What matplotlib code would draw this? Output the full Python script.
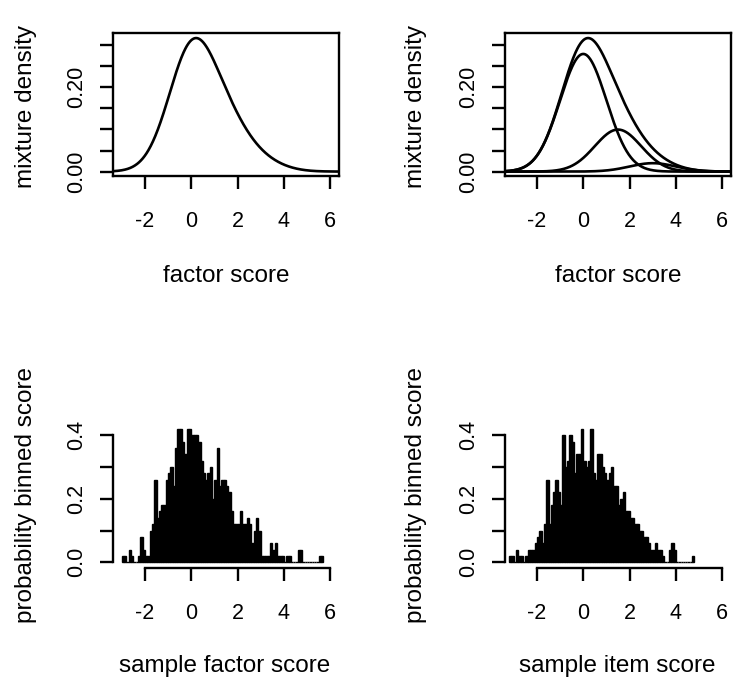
import numpy as np
import matplotlib
matplotlib.use('Agg')
import matplotlib.pyplot as plt

plt.rcParams['font.family'] = ['Liberation Sans', 'DejaVu Sans']
plt.rcParams['axes.unicode_minus'] = False

comp_means = [0.0, 1.5, 3.0]
comp_sds = [1.0, 1.0, 1.0]
comp_weights = [0.70, 0.25, 0.05]

# histograma amostra fator: inicio -3.0, largura 0.1
hist1_start = -3.0
hist1_width = 0.1
hist1_heights = [0.02, 0.02, 0.00, 0.04, 0.02, 0.00, 0.00, 0.02, 0.08, 0.04,
                 0.02, 0.02, 0.10, 0.12, 0.26, 0.14, 0.16, 0.18, 0.18, 0.26,
                 0.28, 0.30, 0.24, 0.36, 0.42, 0.42, 0.38, 0.34, 0.42, 0.42,
                 0.40, 0.40, 0.40, 0.38, 0.32, 0.28, 0.26, 0.28, 0.30, 0.20,
                 0.26, 0.36, 0.24, 0.26, 0.26, 0.24, 0.22, 0.16, 0.12, 0.12,
                 0.12, 0.16, 0.12, 0.12, 0.14, 0.12, 0.06, 0.10, 0.14, 0.10,
                 0.02, 0.02, 0.02, 0.02, 0.06, 0.04, 0.06, 0.02, 0.02, 0.02,
                 0.00, 0.02, 0.02, 0.00, 0.00, 0.00, 0.04, 0.04, 0.00, 0.00,
                 0.00, 0.00, 0.00, 0.00, 0.00, 0.02, 0.02]

# histograma amostra item: inicio -3.2, largura 0.1
hist2_start = -3.2
hist2_width = 0.1
hist2_heights = [0.02, 0.02, 0.00, 0.04, 0.02, 0.02, 0.00, 0.02, 0.04, 0.04,
                 0.04, 0.06, 0.08, 0.10, 0.06, 0.12, 0.26, 0.12, 0.18, 0.22,
                 0.26, 0.22, 0.18, 0.40, 0.30, 0.32, 0.40, 0.38, 0.28, 0.34,
                 0.34, 0.42, 0.32, 0.30, 0.32, 0.42, 0.28, 0.26, 0.34, 0.34,
                 0.30, 0.28, 0.26, 0.28, 0.30, 0.24, 0.24, 0.18, 0.20, 0.22,
                 0.16, 0.16, 0.14, 0.14, 0.12, 0.12, 0.10, 0.10, 0.08, 0.08,
                 0.06, 0.04, 0.04, 0.06, 0.04, 0.04, 0.02, 0.00, 0.00, 0.04,
                 0.06, 0.04, 0.00, 0.00, 0.00, 0.00, 0.00, 0.00, 0.00, 0.02]

x_ticks = [-2, 0, 2, 4, 6]
dens_ticks = [0.00, 0.05, 0.10, 0.15, 0.20, 0.25, 0.30]
dens_labels = ['0.00', '', '', '', '0.20', '', '']
prob_ticks = [0.0, 0.1, 0.2, 0.3, 0.4]
prob_labels = ['0.0', '', '0.2', '', '0.4']

W, H = 750, 693
fig = plt.figure(figsize=(W / 100, H / 100), dpi=100)

def px_axes(left, top, right, bottom):
    return fig.add_axes([left / W, 1 - bottom / H, (right - left) / W, (bottom - top) / H])

def normal_pdf(x, m, s):
    return np.exp(-0.5 * ((x - m) / s) ** 2) / (s * np.sqrt(2 * np.pi))

XLIM = (-3.38, 6.38)
LW = 1.7

def estilo(ax, yticks, ylabels):
    ax.set_xlim(*XLIM)
    ax.set_xticks(x_ticks)
    ax.set_xticklabels([str(t) for t in x_ticks])
    ax.set_yticks(yticks)
    ax.set_yticklabels(ylabels)
    ax.tick_params(axis='x', length=9.4, width=LW, labelsize=15.5, pad=16)
    ax.tick_params(axis='y', length=9.4, width=LW, labelsize=15.5, pad=9.5)
    plt.setp(ax.get_yticklabels(), rotation=90, va='center')
    for sp in ax.spines.values():
        sp.set_linewidth(LW)

xs = np.linspace(XLIM[0], XLIM[1], 600)
comps = [w * normal_pdf(xs, m, s) for m, s, w in zip(comp_means, comp_sds, comp_weights)]
mix = np.sum(comps, axis=0)

# superior esquerdo
ax1 = px_axes(113, 33, 339, 176)
ax1.plot(xs, mix, color='black', lw=1.9)
ax1.set_ylim(-0.0105, 0.329)
estilo(ax1, dens_ticks, dens_labels)

# superior direito
ax2 = px_axes(505, 33, 731, 176)
ax2.plot(xs, mix, color='black', lw=1.9)
for c in comps:
    ax2.plot(xs, c, color='black', lw=1.9)
ax2.set_ylim(-0.0105, 0.329)
estilo(ax2, dens_ticks, dens_labels)

# histogramas
def histo(ax, start, width, heights):
    lefts = start + width * np.arange(len(heights))
    ax.bar(lefts, heights, width=width, align='edge', color='black',
           edgecolor='black', linewidth=1.0)
    ax.set_ylim(-0.018, 0.432)
    estilo(ax, prob_ticks, prob_labels)
    ax.spines['top'].set_visible(False)
    ax.spines['right'].set_visible(False)
    ax.spines['left'].set_bounds(0, 0.4)
    ax.spines['bottom'].set_bounds(-2, 6)

ax3 = px_axes(113, 425, 339, 568)
histo(ax3, hist1_start, hist1_width, hist1_heights)
ax4 = px_axes(505, 425, 731, 568)
histo(ax4, hist2_start, hist2_width, hist2_heights)

def rotulo(x, y, s, rot=0):
    fig.text(x / W, 1 - y / H, s, ha='center', va='center', rotation=rot, fontsize=17.5)

rotulo(226, 276, 'factor score')
rotulo(618, 276, 'factor score')
rotulo(225, 666, 'sample factor score')
rotulo(617, 666, 'sample item score')
rotulo(26, 106, 'mixture density', 90)
rotulo(416, 106, 'mixture density', 90)
rotulo(26, 495, 'probability binned score', 90)
rotulo(416, 495, 'probability binned score', 90)

fig.savefig('out.png', dpi=100)
